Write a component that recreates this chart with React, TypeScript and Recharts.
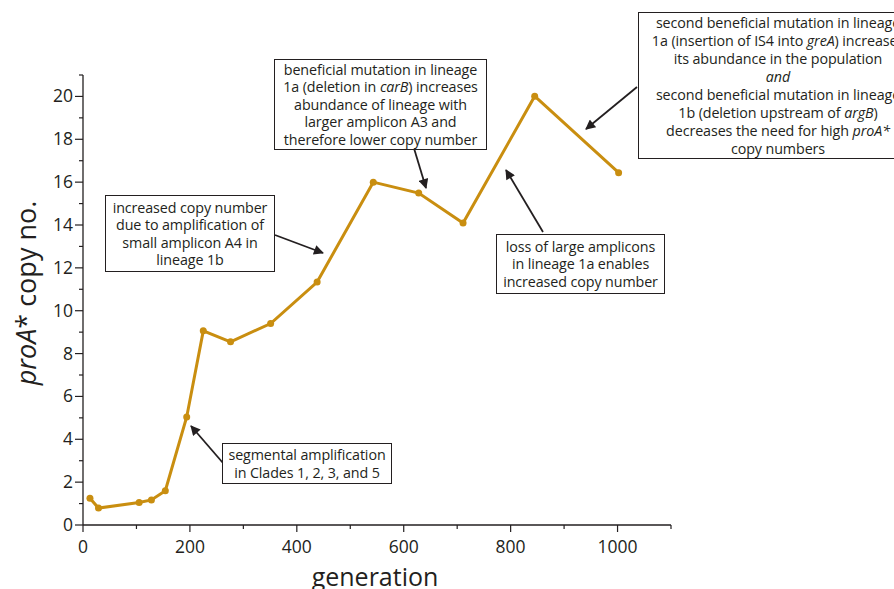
import { LineChart, Line, XAxis, YAxis } from "recharts";

const generations = [13, 29, 105, 128, 154, 194, 225, 276, 351, 438, 543, 628, 711, 845, 1002];
const copyNumbers = [1.25, 0.79, 1.05, 1.17, 1.6, 5.04, 9.06, 8.55, 9.4, 11.34, 16.0, 15.49, 14.09, 20.01, 16.44];
const xTicks = [0, 100, 200, 300, 400, 500, 600, 700, 800, 900, 1000, 1100];
const yTicks = [0, 1, 2, 3, 4, 5, 6, 7, 8, 9, 10, 11, 12, 13, 14, 15, 16, 17, 18, 19, 20, 21];

const data = generations.map((g, i) => ({ gen: g, copies: copyNumbers[i] }));

const INK = "#231f20";
const GOLD = "#c98e10";
const FONT = "'Open Sans', sans-serif";

function XTick(props: any) {
  const { x, y, payload } = props;
  const major = payload.value % 200 === 0 && payload.value <= 1000;
  return (
    <g>
      <line x1={x} x2={x} y1={y} y2={y + (major ? 7 : 4)} stroke={INK} strokeWidth={1.2} />
      {major && (
        <text x={x} y={y + 28} textAnchor="middle" fontSize={17.5} fill={INK} fontFamily={FONT}>
          {payload.value}
        </text>
      )}
    </g>
  );
}

function YTick(props: any) {
  const { x, y, payload } = props;
  const major = payload.value % 2 === 0 && payload.value <= 20;
  return (
    <g>
      <line x1={x} x2={x - (major ? 8 : 4)} y1={y} y2={y} stroke={INK} strokeWidth={1.2} />
      {major && (
        <text x={x - 10} y={y + 6} textAnchor="end" fontSize={17.5} fill={INK} fontFamily={FONT}>
          {payload.value}
        </text>
      )}
    </g>
  );
}

function YLabel() {
  const cy = 293;
  return (
    <text x={36} y={cy} transform={`rotate(-90 36 ${cy})`} textAnchor="middle" fontSize={27} fill={INK} fontFamily={FONT}>
      <tspan fontStyle="italic">proA</tspan>
      <tspan>* copy no.</tspan>
    </text>
  );
}

function XLabel(props: any) {
  const { viewBox } = props;
  return (
    <text x={viewBox.x + viewBox.width / 2 - 2} y={586} textAnchor="middle" fontSize={25} fill={INK} fontFamily={FONT}>
      generation
    </text>
  );
}

const boxStyle = (left: number, top: number, width: number, height: number): React.CSSProperties => ({
  position: "absolute",
  left,
  top,
  width,
  height,
  boxSizing: "border-box",
  border: `1.6px solid ${INK}`,
  background: "#fff",
  display: "flex",
  flexDirection: "column",
  justifyContent: "center",
  alignItems: "center",
  textAlign: "center",
  fontFamily: FONT,
  fontSize: 14.3,
  letterSpacing: "-0.1px",
  lineHeight: "17.5px",
  color: INK,
  whiteSpace: "nowrap",
  overflow: "hidden",
});

const arrows = [
  [275, 235, 323, 253],
  [413, 145, 426, 188],
  [637, 87, 586, 129],
  [543, 232, 506, 170],
  [223, 463, 191, 426],
];

export default function App() {
  return (
    <div style={{ position: "absolute", left: 0, top: 0, width: 894, height: 589, overflow: "hidden", background: "#fff" }}>
      <LineChart width={894} height={589} data={data} margin={{ top: 75, right: 223, bottom: 0, left: 0 }}>
        <XAxis
          dataKey="gen"
          type="number"
          domain={[0, 1100]}
          ticks={xTicks}
          interval={0}
          height={64}
          tickSize={0}
          tickMargin={0}
          tick={<XTick />}
          axisLine={{ stroke: INK, strokeWidth: 1.3 }}
          label={{ content: <XLabel /> }}
        />
        <YAxis
          type="number"
          domain={[0, 21]}
          ticks={yTicks}
          interval={0}
          width={83}
          tickSize={0}
          tickMargin={0}
          tick={<YTick />}
          axisLine={{ stroke: INK, strokeWidth: 1.3 }}
          label={{ content: <YLabel /> }}
        />
        <Line
          dataKey="copies"
          type="linear"
          stroke={GOLD}
          strokeWidth={3}
          dot={{ r: 3.5, fill: GOLD, stroke: GOLD, strokeWidth: 0 }}
          isAnimationActive={false}
        />
      </LineChart>

      <svg width={894} height={589} style={{ position: "absolute", left: 0, top: 0, pointerEvents: "none" }}>
        <defs>
          <marker id="head" viewBox="0 0 10 10" refX="9" refY="5" markerWidth="12" markerHeight="10" orient="auto" markerUnits="userSpaceOnUse">
            <path d="M0,0 L10,5 L0,10 z" fill={INK} />
          </marker>
        </defs>
        {arrows.map(([x1, y1, x2, y2], i) => (
          <line key={i} x1={x1} y1={y1} x2={x2} y2={y2} stroke={INK} strokeWidth={1.8} markerEnd="url(#head)" />
        ))}
      </svg>

      <div style={boxStyle(105, 195, 170, 77)}>
        <div>increased copy number</div>
        <div>due to amplification of</div>
        <div>small amplicon A4 in</div>
        <div>lineage 1b</div>
      </div>

      <div style={boxStyle(274, 59, 213, 91)}>
        <div>beneficial mutation in lineage</div>
        <div>1a (deletion in <i>carB</i>) increases</div>
        <div>abundance of lineage with</div>
        <div>larger amplicon A3 and</div>
        <div>therefore lower copy number</div>
      </div>

      <div style={{ ...boxStyle(638, 12, 278, 147), lineHeight: "18px", alignItems: "flex-start" }}>
        <div style={{ width: 278, textAlign: "center" }}>
          <div>second beneficial mutation in lineage</div>
          <div>1a (insertion of IS4 into <i>greA</i>) increases</div>
          <div>its abundance in the population</div>
          <div><i>and</i></div>
          <div>second beneficial mutation in lineage</div>
          <div>1b (deletion upstream of <i>argB</i>)</div>
          <div>decreases the need for high <i>proA*</i></div>
          <div>copy numbers</div>
        </div>
      </div>

      <div style={boxStyle(496, 234, 169, 60)}>
        <div>loss of large amplicons</div>
        <div>in lineage 1a enables</div>
        <div>increased copy number</div>
      </div>

      <div style={boxStyle(222, 443, 170, 41)}>
        <div>segmental amplification</div>
        <div>in Clades 1, 2, 3, and 5</div>
      </div>
    </div>
  );
}
